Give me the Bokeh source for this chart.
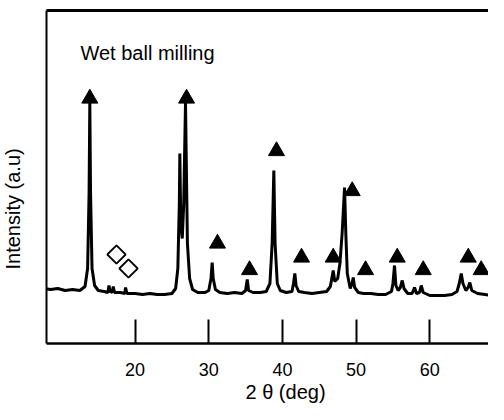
import math
from bokeh.plotting import figure
from bokeh.models import Range1d, LinearAxis, FixedTicker, Label, Title
from bokeh.embed import file_html
from bokeh.resources import INLINE

# XRD pattern (2theta in degrees, intensity in arbitrary units)
two_theta = [7.6, 8.5, 9.5, 10.5, 11.5, 12.5, 13.2, 13.55, 13.75, 13.85, 13.95, 14.15, 14.5,
             15.0, 15.8, 16.3, 16.45, 16.6, 16.9, 17.03, 17.2, 18.0, 18.6, 18.7, 18.9,
             20.0, 21.0, 22.0, 23.0, 24.0, 25.0, 25.5, 25.8, 26.0, 26.07, 26.2, 26.4, 26.6,
             26.84, 26.95, 27.1, 27.4, 27.8, 28.5, 29.5, 30.0, 30.3, 30.46, 30.6, 30.9,
             31.5, 32.5, 33.5, 34.5, 35.0, 35.22, 35.4, 36.0, 37.0, 37.8, 38.3, 38.6,
             38.83, 39.0, 39.3, 39.7, 40.5, 41.3, 41.5, 41.68, 41.85, 42.2, 43.0, 44.0,
             45.0, 46.0, 46.5, 46.7, 46.89, 47.1, 47.5, 47.8, 48.1, 48.43, 48.6, 48.8,
             49.2, 49.45, 49.61, 49.8, 50.3, 51.0, 52.0, 53.0, 54.0, 54.8, 55.0, 55.21,
             55.4, 55.7, 56.0, 56.26, 56.5, 57.0, 57.6, 57.93, 58.2, 58.6, 58.84, 59.1,
             60.0, 61.0, 62.0, 63.0, 63.7, 64.0, 64.27, 64.5, 64.9, 65.2, 65.44, 65.7,
             66.5, 67.5, 68.5, 69.5, 70.0, 70.4]
intensity = [55, 54, 55, 53, 54, 53, 57, 75, 150, 241, 150, 75, 58,
             53, 52, 51, 58, 52, 51, 57, 51, 51, 50, 56, 50,
             50, 49, 50, 49, 49, 50, 55, 75, 140, 190, 120, 105, 140,
             241, 180, 100, 65, 54, 51, 51, 53, 65, 81, 65, 54,
             51, 50, 51, 50, 53, 64, 53, 51, 51, 52, 60, 100,
             173, 100, 60, 53, 51, 52, 60, 70, 58, 52, 51, 50,
             51, 52, 57, 65, 73, 62, 65, 80, 110, 156, 110, 70,
             55, 60, 66, 56, 51, 50, 50, 49, 49, 52, 60, 78,
             58, 53, 56, 63, 55, 50, 50, 56, 50, 51, 58, 51,
             48, 48, 48, 49, 52, 60, 70, 60, 53, 56, 61, 53,
             50, 49, 48, 49, 56, 70]

# Peak markers
tri_x = [13.85, 26.98, 31.18, 35.53, 39.19, 42.59, 46.89, 49.47, 51.28, 55.58, 59.11, 65.22, 66.98]
tri_y = [245, 245, 100, 73.5, 192.5, 86, 86, 152.5, 73.5, 86, 73.5, 86, 73.5]
dia_x = [17.47, 19.10]
dia_y = [89, 75]

tick_values = [20, 30, 40, 50, 60]
title_text = "Wet ball milling"
x_label = "2 θ (deg)"
y_label = "Intensity (a.u)"

FONT = "Liberation Sans"

p = figure(width=488, height=404, output_backend="svg", toolbar_location=None,
           x_range=Range1d(7.97, 67.97), y_range=Range1d(0, 333),
           min_border_left=46, min_border_right=0, min_border_top=10, min_border_bottom=61,
           x_axis_location=None, y_axis_location=None)
p.grid.visible = False
p.outline_line_color = None
p.background_fill_color = "white"
p.border_fill_color = "white"

# bottom axis with inward ticks
xax = LinearAxis(ticker=FixedTicker(ticks=tick_values))
xax.axis_line_width = 2.5
xax.axis_line_color = "black"
xax.major_tick_in = 24
xax.major_tick_out = 0
xax.major_tick_line_width = 2
xax.major_tick_line_color = "black"
xax.minor_tick_line_color = None
xax.major_label_text_font = FONT
xax.major_label_text_font_size = "18px"
xax.major_label_text_color = "black"
xax.major_label_standoff = 19
p.add_layout(xax, "below")

# x label as a title below the axis, shifted to the right like the reference
p.add_layout(Title(text=x_label, text_font=FONT, text_font_size="20px",
                   text_font_style="normal", text_color="black",
                   align="left", offset=199, standoff=0), "below")

# left frame line (a blank spacer label keeps the y title away from the frame)
yax = LinearAxis(ticker=FixedTicker(ticks=[150]))
yax.major_label_overrides = {150: " "}
yax.axis_line_width = 2
yax.axis_line_color = "black"
yax.major_tick_line_color = None
yax.major_tick_out = 0
yax.major_tick_in = 0
yax.minor_tick_line_color = None
yax.major_label_text_font = FONT
yax.major_label_text_font_size = "20px"
yax.major_label_standoff = 12
p.add_layout(yax, "left")

p.add_layout(Title(text=y_label, text_font=FONT, text_font_size="20px",
                   text_font_style="normal", text_color="black",
                   align="left", offset=74, standoff=0, vertical_align="top"), "left")

# top frame line
tax = LinearAxis(ticker=FixedTicker(ticks=[]))
tax.axis_line_width = 3
tax.axis_line_color = "black"
tax.major_tick_line_color = None
tax.minor_tick_line_color = None
tax.major_label_text_font_size = "0px"
tax.major_label_standoff = 0
p.add_layout(tax, "above")

p.line(two_theta, intensity, line_color="black", line_width=3)
p.scatter(tri_x, tri_y, marker="triangle", size=16, fill_color="black", line_color="black")
p.scatter(dia_x, dia_y, marker="square", size=13, angle=math.pi / 4,
          fill_color="white", line_color="black", line_width=1.8)

p.add_layout(Label(x=12.58, y=291, text=title_text, text_font=FONT, text_font_size="20px",
                   text_color="black", text_baseline="alphabetic", text_align="left"))

open("out.html", "w").write(file_html(p, INLINE))
